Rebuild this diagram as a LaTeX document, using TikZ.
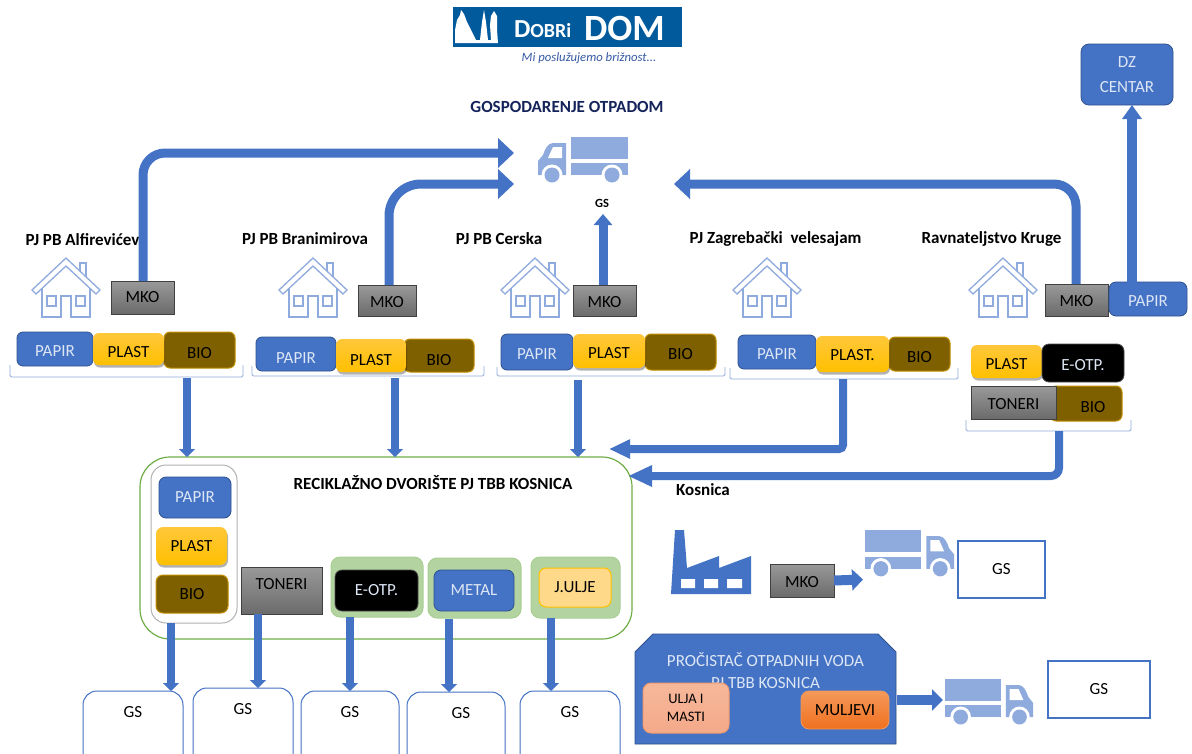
\documentclass[tikz,border=0pt]{standalone}
\usepackage{fontspec}
\setmainfont{Carlito}
\usetikzlibrary{arrows.meta}
\definecolor{blu}{HTML}{4472C4}
\definecolor{dblu}{HTML}{2F528F}
\definecolor{lblu}{HTML}{8FAADC}
\definecolor{ltxt}{HTML}{DCE6F5}
\definecolor{grn}{HTML}{70AD47}
\definecolor{lgrn}{HTML}{B3D4A0}
\definecolor{bio}{HTML}{7F6000}
\definecolor{gold}{HTML}{BF9000}
\definecolor{navy}{HTML}{14235A}
\definecolor{logobg}{HTML}{005A9C}
\definecolor{plasttop}{HTML}{FFC73A}
\definecolor{plastbot}{HTML}{FFC000}
\definecolor{juljefill}{HTML}{FFD98A}
\definecolor{uljadraw}{HTML}{F09A6E}
\definecolor{uljatop}{HTML}{F6B89A}
\definecolor{uljabot}{HTML}{F4A98A}
\definecolor{muldraw}{HTML}{ED9A5C}
\definecolor{multop}{HTML}{F4995A}
\definecolor{mulbot}{HTML}{F0701F}
\tikzset{
 x=1pt,y=-1pt,
 base/.style={font=\fontsize{17}{19}\selectfont,inner sep=0pt,outer sep=0pt,align=center},
 tlow/.style={text height=#1pt,text depth=0pt},
 papir/.style={base,anchor=north west,rounded corners=6,draw=dblu,fill=blu,text=ltxt,line width=.8},
 plastb/.style={base,anchor=north west,rounded corners=6,top color=plasttop,bottom color=plastbot,text=black,
   preaction={fill=black,fill opacity=.3,transform canvas={xshift=1pt,yshift=-2.5pt}}},
 biob/.style={base,anchor=north west,rounded corners=6,draw=gold,fill=bio,text=black,line width=1},
 blk/.style={base,anchor=north west,rounded corners=7,draw=black!70,fill=black,text=ltxt,line width=.8},
 mko/.style={base,anchor=north west,draw=black!75,line width=1,top color=black!40,bottom color=black!58,text=black},
 head/.style={base,font=\fontsize{17}{19}\selectfont\bfseries,text=black},
 gsb/.style={base,draw=blu,line width=1,fill=white,text=black},
 flow/.style={draw=blu,line width=9,-{Triangle[length=16,width=29]}},
 flowup/.style={draw=blu,line width=9,-{Triangle[length=11,width=18]}},
 flowm/.style={draw=blu,line width=8,-{Triangle[length=8,width=16]}},
 flowh/.style={draw=blu,line width=8,-{Triangle[length=21,width=18]}},
 flows/.style={draw=blu,line width=10,-{Triangle[length=11,width=21]}},
 brk/.style={draw=lblu,line width=.9,rounded corners=1.5},
 greenb/.style={base,anchor=north west,rounded corners=9,fill=lgrn,draw=lgrn!85!grn,line width=1},
}
% truck icon, 90 x 46, facing right in its own frame
\newcommand{\mytruck}[4]{%
 \begin{scope}[shift={(#1,#2)},xscale=#3,yscale=#4]
  \fill[lblu] (0,0) rectangle (57,22);
  \fill[lblu] (0,26) rectangle (57,38);
  \fill[lblu] (62,6) -- (75,6) .. controls (80,6) and (83,12) .. (85,18) -- (90,24) -- (90,38) -- (62,38) -- cycle;
  \fill[white] (66,10) -- (75,10) -- (80,21) -- (66,21) -- cycle;
  \fill[white] (16,38) circle[radius=10.5] (76,38) circle[radius=10.5];
  \fill[lblu] (16,38) circle[radius=7.5] (76,38) circle[radius=7.5];
 \end{scope}}
% house icon, origin at the top-left of its 68x60 frame
\newcommand{\myhouse}[2]{%
 \begin{scope}[shift={(#1,#2)},draw=lblu,line width=1.3]
  \draw (0,32) -- (34,0) -- (68,32) -- (64,36) -- (34,8) -- (4,36) -- cycle;
  \draw (48,13) -- (48,5) -- (54,5) -- (54,19);
  \draw (10,30) -- (10,59) -- (29,59) -- (29,38) -- (39,38) -- (39,59) -- (58,59) -- (58,30);
  \draw (15,38) rectangle (24,48);
  \draw (44,38) rectangle (53,48);
 \end{scope}}
\newcommand{\mybracket}[4]{\draw[brk] (#1,#3) -- (#1,#4) -- (#2,#4) -- (#2,#3);}
\begin{document}
\begin{tikzpicture}
\useasboundingbox (0,0) rectangle (1192,753);
\clip (0,0) rectangle (1192,753);
\fill[white] (0,0) rectangle (1192,753);

% logo
\fill[logobg] (452.5,7) rectangle (681.5,47);
\fill[white] (455,43) -- (455,30) -- (457,20) -- (460,15) -- (461,10) -- (464,14) -- (467,22) -- (472,32) -- (476,40) -- (480,40) -- (482,22) -- (484,10) -- (486,22) -- (488,40) -- (491,40) -- (490,25) -- (491,16) -- (494,11) -- (497,16) -- (497,30) -- (498,43) -- cycle;
\node[base,text=white,anchor=west,font=\fontsize{26}{27}\selectfont\bfseries] (logoa) at (514,29.5) {D\fontsize{20}{21}\selectfont OBRi};
\node[base,text=white,anchor=west,font=\fontsize{37}{38}\selectfont\bfseries] (logob) at (584,28) {DOM};
\node[base,text=blu!70!navy,font=\fontsize{12.7}{14}\selectfont\itshape] (logoc) at (589,58) {Mi poslužujemo brižnost...};

\node[head,text=navy] (title) at (567,107) {GOSPODARENJE OTPADOM};
\mytruck{628}{137}{-1}{1}
\coordinate (t1) at (514,153);
\coordinate (t2) at (514,184);
\coordinate (t3) at (674,184);
\node[base,font=\fontsize{12.5}{14}\selectfont\bfseries] (gsa) at (602,203) {GS};

% DZ
\node[papir,rounded corners=8,minimum width=92,minimum height=61] (dz) at (1081,44) {DZ\\[6pt]CENTAR};

% headings
\node[head] (h1) at (82.5,240) {PJ PB Alfirevićev};
\node[head] (h2) at (305,239) {PJ PB Branimirova};
\node[head] (h3) at (499,239) {PJ PB Cerska};
\node[head] (h4) at (775.5,239) {PJ Zagrebački\ \ velesajam};
\node[head] (h5) at (991.5,239) {Ravnateljstvo Kruge};

\myhouse{32}{258}\myhouse{279}{258}\myhouse{501}{258}\myhouse{733}{258}\myhouse{969}{258}

% brackets
\mybracket{10}{243}{365}{377}
\mybracket{252}{484}{366}{376}
\mybracket{497}{725}{367}{376}
\mybracket{730}{958}{368}{379}
\mybracket{966}{1131}{420}{431}
\coordinate (b1) at (187,378);
\coordinate (b2) at (395,378);
\coordinate (b3) at (578,380);
\coordinate (b4) at (843,379);
\coordinate (b5) at (1059,431);

% mko row
\node[mko,minimum width=63,minimum height=33] (m1) at (111,281) {MKO};
\node[mko,tlow=13,minimum width=58,minimum height=31] (m2) at (358,285) {MKO};
\node[mko,tlow=13,minimum width=63,minimum height=31] (m3) at (573,285) {MKO};
\node[mko,tlow=13,minimum width=63,minimum height=32] (m5) at (1045,284) {MKO};
\node[papir,tlow=15,rounded corners=7,minimum width=78,minimum height=34] (p5) at (1109,282) {PAPIR};

% connectors to the truck
\coordinate (m1a) at (143,281);
\coordinate (m2a) at (389,285);
\coordinate (m5a) at (1076,284);
\coordinate (gsb1) at (603,214);
\coordinate (m3a) at (603,285);
\coordinate (dza) at (1132,283);
\draw[flow,rounded corners=22] (m1a) |- (t1);
\draw[flow,rounded corners=32] (m2a) |- (t2);
\draw[flow,rounded corners=22] (m5a) |- (t3);
\draw[flowup] (m3a) -- (gsb1);
\draw[draw=blu,line width=10,-{Triangle[length=14,width=19]}] (dza) -- (dza |- dz.south);

% row 1
\node[papir,tlow=15,minimum width=76,minimum height=34] (a1) at (17,332) {PAPIR};
\node[biob,tlow=17,minimum width=71,minimum height=36] (a3) at (164,332) {BIO};
\node[plastb,tlow=17,minimum width=71,minimum height=32] (a2) at (93,333) {PLAST};
% row 2
\node[papir,tlow=19,minimum width=80,minimum height=34] (b1n) at (256,337) {PAPIR};
\node[biob,tlow=19,minimum width=70,minimum height=33] (b3n) at (404,339) {BIO};
\node[plastb,tlow=19,minimum width=70,minimum height=33] (b2n) at (336,339) {PLAST};
% row 3
\node[papir,tlow=15,minimum width=72,minimum height=36] (c1) at (501,334) {PAPIR};
\node[biob,tlow=15,minimum width=71,minimum height=36] (c3) at (645,334) {BIO};
\node[plastb,tlow=15,minimum width=72,minimum height=34] (c2) at (573,334) {PLAST};
% row 4
\node[papir,tlow=15,minimum width=78,minimum height=34] (d1) at (738,335) {PAPIR};
\node[biob,tlow=17,minimum width=61,minimum height=34] (d3) at (889,337) {BIO};
\node[plastb,tlow=13,minimum width=73,minimum height=36] (d2) at (816,336) {PLAST.};
% row 5
\node[plastb,tlow=15,minimum width=71,minimum height=33] (e1) at (971,345) {PLAST};
\node[blk,tlow=15,minimum width=82,minimum height=38] (e2) at (1042,344) {E-OTP.};
\node[biob,tlow=17,minimum width=72,minimum height=35] (e4) at (1050,386) {\rule{14pt}{0pt}BIO};
\node[mko,tlow=13,minimum width=85,minimum height=33] (e3) at (971,386) {TONERI};

% recycling yard
\node[base,anchor=north west,draw=grn,line width=1.2,fill=white,rounded corners=30,minimum width=492,minimum height=182] (yard) at (140,457) {};
\node[head] (yt) at (433,483) {RECIKLAŽNO DVORIŠTE PJ TBB KOSNICA};
\node[head,anchor=center] (kos) at (703,490) {Kosnica};
\node[base,anchor=north west,draw=black!30,line width=1,fill=white,rounded corners=15,minimum width=86,minimum height=158] (col) at (151,465) {};
\node[papir,rounded corners=7,minimum width=72,minimum height=41] (r1) at (159,477) {PAPIR};
\node[plastb,rounded corners=7,minimum width=71,minimum height=38] (r2) at (156,527) {PLAST};
\node[biob,rounded corners=7,minimum width=72,minimum height=38] (r3) at (156,575) {BIO};
\node[mko,text height=0pt,text depth=3pt,minimum width=81,minimum height=47] (r4) at (241,567) {TONERI};
\node[greenb,minimum width=92,minimum height=60] (r5g) at (331,557) {};
\node[blk,minimum width=83,minimum height=41] (r5) at (335,570) {E-OTP.};
\node[greenb,minimum width=93,minimum height=60] (r6g) at (428,558) {};
\node[papir,rounded corners=7,minimum width=80,minimum height=41] (r6) at (434,570) {METAL};
\node[greenb,minimum width=89,minimum height=61] (r7g) at (531,557) {};
\node[base,anchor=north west,rounded corners=7,draw=plastbot,fill=juljefill,line width=1,minimum width=72,minimum height=39,text=black] (r7) at (539,568) {J.ULJE};

% GS row
\node[gsb,anchor=north,rounded corners=14,minimum width=100,minimum height=90] (g1) at (133,691) {};
\node[gsb,anchor=north,rounded corners=14,minimum width=100,minimum height=90] (g2) at (243,688) {};
\node[gsb,anchor=north,rounded corners=14,minimum width=98,minimum height=90] (g3) at (350,691) {};
\node[gsb,anchor=north,rounded corners=14,minimum width=98,minimum height=90] (g4) at (456,692) {};
\node[gsb,anchor=north,rounded corners=14,minimum width=100,minimum height=90] (g5) at (570,691) {};
\node[base] (g1t) at (133,712) {GS};
\node[base] (g2t) at (243,709) {GS};
\node[base] (g3t) at (350,712) {GS};
\node[base] (g4t) at (461,713) {GS};
\node[base] (g5t) at (570,712) {GS};

% arrows down
\draw[flowm] (b1) -- (b1 |- yard.north);
\draw[flowm] (b2) -- (b2 |- yard.north);
\draw[flowm] (b3) -- (b3 |- yard.north);
\coordinate (y1) at (609,449);
\coordinate (y2) at (628,476);
\draw[flowh,rounded corners=4] (b4) |- (y1);
\draw[flowh,-{Triangle[length=24,width=20]},rounded corners=8] (b5) |- (y2);
\coordinate (c1a) at (171,623);\coordinate (c2a) at (258,614);\coordinate (c3a) at (350,617);\coordinate (c4a) at (449,619);\coordinate (c5a) at (551,618);
\draw[flowm] (c1a) -- (c1a |- g1.north);
\draw[flowm] (c2a) -- (c2a |- g2.north);
\draw[flowm] (c3a) -- (c3a |- g3.north);
\draw[flowm] (c4a) -- (c4a |- g4.north);
\draw[flowm] (c5a) -- (c5a |- g5.north);

% factory row
\fill[blu] (675,530) -- (684,530) -- (687,568) -- (719,556) -- (719,568) -- (751,556) -- (751,594) -- (671,594) -- cycle;
\fill[white] (681,579) rectangle (695,588) (704,579) rectangle (718,588) (727,579) rectangle (742,588);
\node[mko,tlow=13,minimum width=64,minimum height=33] (f1) at (770,564) {MKO};
\coordinate (f2) at (863,579.5);
\draw[flows] (f1.east) -- (f2);
\mytruck{865}{530}{.99}{1.02}
\node[gsb,line width=1.2,minimum width=87,minimum height=57] (fg) at (1001.5,569.5) {GS};

% treatment plant
\filldraw[fill=blu,draw=dblu,line width=.8] (653,634) -- (878,634) -- (896,652) -- (896,744) -- (635,744) -- (635,652) -- cycle;
\node[base,text=ltxt,align=center] (pt) at (765.5,660) {PROČISTAČ OTPADNIH VODA};
\node[base,text=ltxt,align=center] (pt2) at (765.5,683) {PJ TBB KOSNICA};
\node[base,anchor=north west,font=\fontsize{14.5}{18}\selectfont,rounded corners=8,draw=uljadraw,top color=uljatop,bottom color=uljabot,line width=1,minimum width=86,minimum height=50,text=black] (u1) at (643,683) {ULJA I\\MASTI};
\node[base,anchor=north west,rounded corners=8,draw=muldraw,top color=multop,bottom color=mulbot,line width=.8,minimum width=88,minimum height=38,text=black] (u2) at (801,691) {MULJEVI};
\coordinate (u3) at (943,700);
\coordinate (u0) at (896.5,700);
\draw[flows] (u0) -- (u3);
\mytruck{945}{679}{.98}{1}
\node[gsb,line width=1.2,minimum width=102,minimum height=57] (ug) at (1099,689.5) {GS};
\end{tikzpicture}
\end{document}
